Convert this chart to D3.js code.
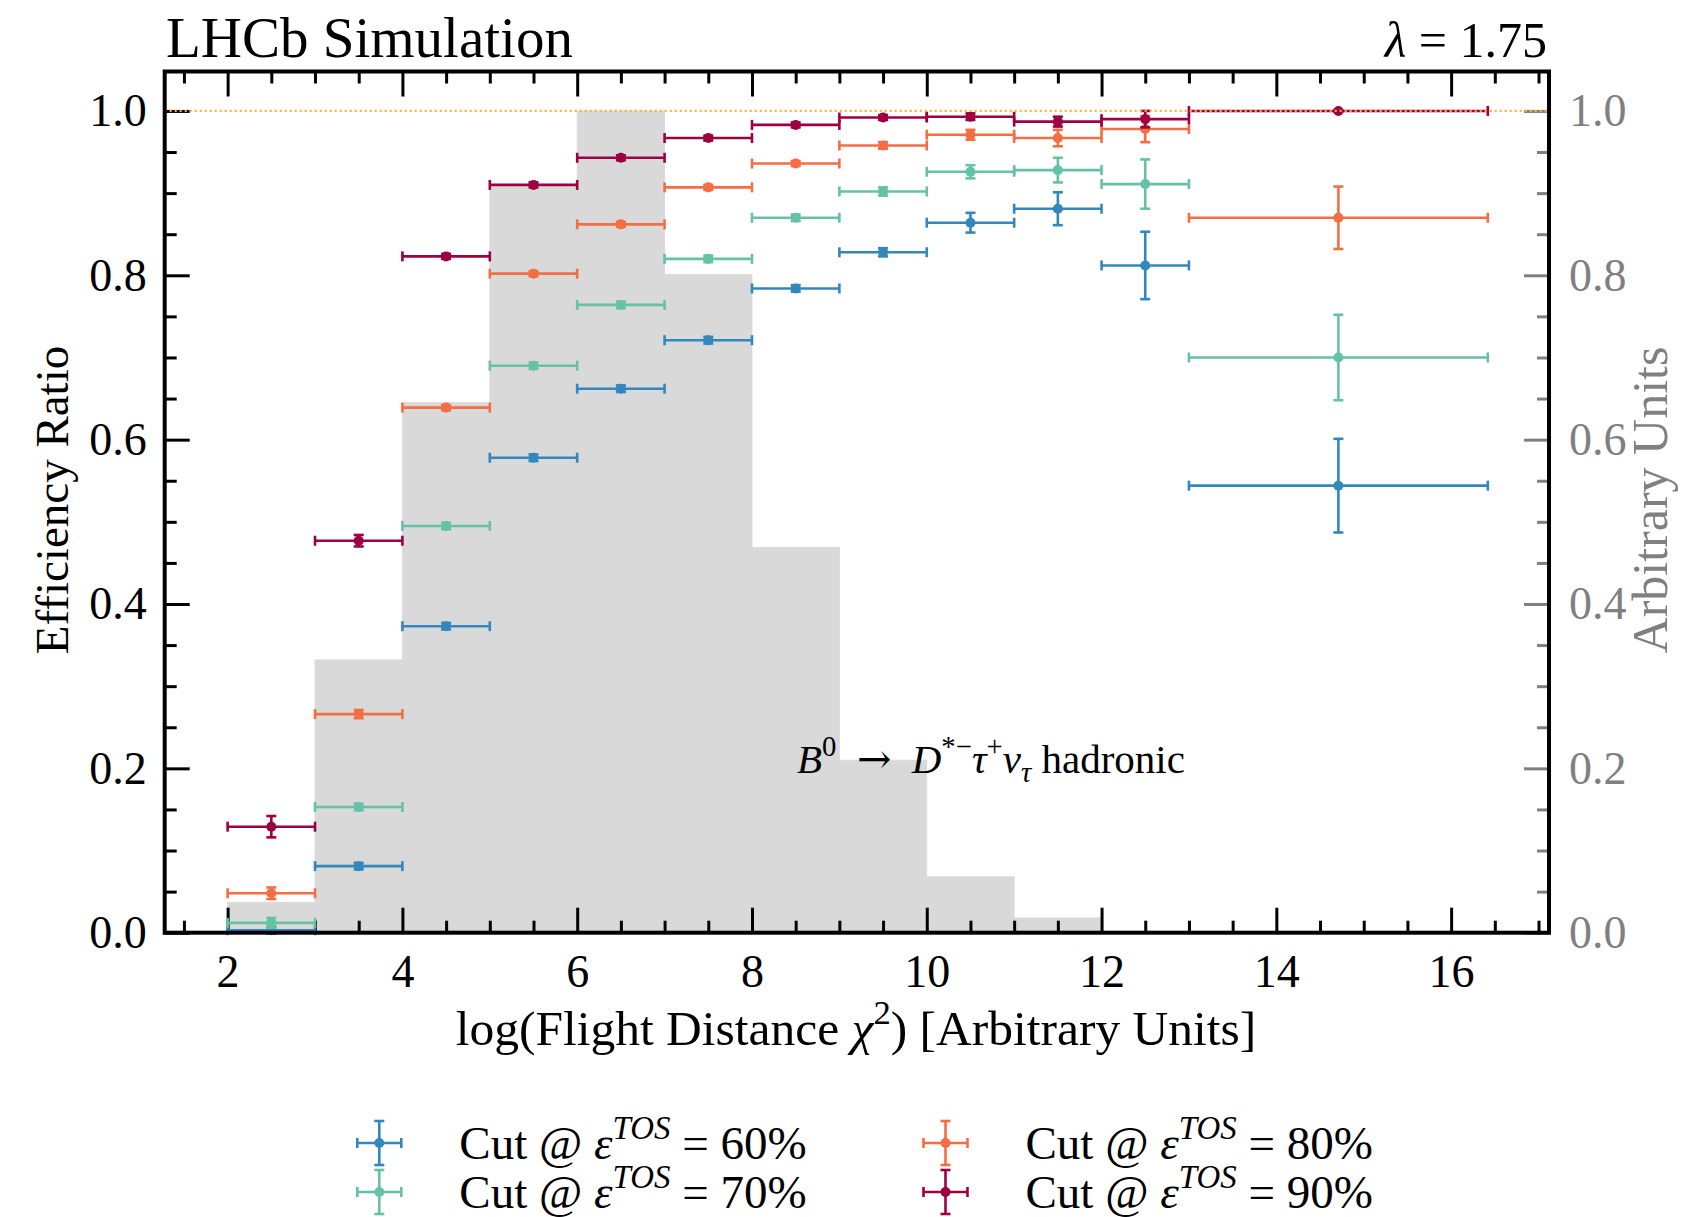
<!DOCTYPE html>
<html>
<head>
<meta charset="utf-8">
<script src="https://cdn.jsdelivr.net/npm/d3@7"></script>
<style>
  body { margin: 0; background: #fff; }
  text { font-family: "Liberation Serif", "DejaVu Serif", serif; }
</style>
</head>
<body>
<div id="chart"></div>
<script>
// bins of log(FD chi2)
const binLow    = [2, 3, 4, 5, 6, 7, 8, 9, 10, 11, 12, 13];
const binHigh   = [3, 4, 5, 6, 7, 8, 9, 10, 11, 12, 13, 16.42];
const binCenter = [2.5, 3.5, 4.5, 5.5, 6.5, 7.5, 8.5, 9.5, 10.5, 11.5, 12.5, 14.71];

// grey signal histogram (right axis, arbitrary units)
const histLow    = [2, 3, 4, 5, 6, 7, 8, 9, 10, 11, 12];
const histHigh   = [3, 4, 5, 6, 7, 8, 9, 10, 11, 12, 13];
const histValues = [0.037, 0.332, 0.645, 0.910, 1.0, 0.801, 0.469, 0.210, 0.068, 0.018, 0.0];

// efficiency ratios per TOS cut
const eff60 = [0.003, 0.081, 0.373, 0.578, 0.662, 0.721, 0.784, 0.828, 0.864, 0.881, 0.812, 0.544];
const err60 = [0.004, 0.004, 0.004, 0.004, 0.004, 0.004, 0.004, 0.005, 0.012, 0.020, 0.041, 0.057];
const eff70 = [0.012, 0.153, 0.495, 0.690, 0.764, 0.820, 0.870, 0.902, 0.926, 0.928, 0.911, 0.700];
const err70 = [0.006, 0.004, 0.004, 0.004, 0.004, 0.004, 0.004, 0.005, 0.008, 0.015, 0.030, 0.052];
const eff80 = [0.048, 0.266, 0.639, 0.802, 0.862, 0.907, 0.936, 0.958, 0.971, 0.967, 0.978, 0.870];
const err80 = [0.007, 0.005, 0.003, 0.003, 0.003, 0.003, 0.003, 0.004, 0.006, 0.010, 0.016, 0.038];
const eff90 = [0.129, 0.477, 0.823, 0.910, 0.943, 0.967, 0.983, 0.992, 0.993, 0.987, 0.990, 1.0];
const err90 = [0.013, 0.007, 0.003, 0.003, 0.003, 0.003, 0.003, 0.003, 0.004, 0.006, 0.010, 0.001];

const seriesLabels = ["60%", "70%", "80%", "90%"];
const seriesColors = ["#3288bd", "#66c2a5", "#f46d43", "#9e0142"];

const xTicks = [2, 4, 6, 8, 10, 12, 14, 16];
const yTicks = [0, 0.2, 0.4, 0.6, 0.8, 1.0];

const series = [
  {eff: eff60, err: err60}, {eff: eff70, err: err70},
  {eff: eff80, err: err80}, {eff: eff90, err: err90}
];

const W = 1681, H = 1217;
const pLeft = 164.7, pRight = 1549, pTop = 71.5, pBottom = 932.7;

var x = d3.scaleLinear().domain([1.28, 17.12]).range([pLeft, pRight]);
var y = d3.scaleLinear().domain([0, 1.048]).range([pBottom, pTop]);

var svg = d3.select("#chart").append("svg")
    .attr("width", W).attr("height", H);

// histogram
svg.append("g").selectAll("rect")
    .data(histValues)
    .enter().append("rect")
    .attr("x", (d, i) => x(histLow[i]))
    .attr("width", (d, i) => x(histHigh[i]) - x(histLow[i]))
    .attr("y", d => y(d))
    .attr("height", d => y(0) - y(d))
    .attr("fill", "#d9d9d9")
    .attr("stroke", "#d9d9d9").attr("stroke-width", 0.8);

// text with super/subscripts
function rich(t, parts, size) {
  let cur = 0;
  parts.forEach(p => {
    let shift = p.sup ? -0.42 * size : (p.sub ? 0.22 * size : 0);
    let ts = t.append("tspan").text(p.t)
        .attr("font-size", (p.sup || p.sub) ? size * 0.7 : size)
        .attr("dy", shift - cur);
    cur = shift;
    if (p.it) ts.attr("font-style", "italic");
    if (p.font) ts.style("font-family", p.font);
  });
}

var decay = svg.append("text").attr("x", 797).attr("y", 773).attr("fill", "#000");
rich(decay, [
  {t: "B", it: true}, {t: "0", sup: true}, {t: "  "},
  {t: "\u2192", font: "'DejaVu Serif', serif"}, {t: "  "},
  {t: "D", it: true}, {t: "*\u2212", sup: true},
  {t: "\u03C4", it: true}, {t: "+", sup: true},
  {t: "\u03BD", it: true}, {t: "\u03C4", sub: true, it: true},
  {t: " hadronic"}
], 41);
decay.attr("xml:space", "preserve").style("white-space", "pre");

// ticks, inward on all four sides
var xMinor = d3.range(1.5, 17.01, 0.5).filter(v => v % 2 !== 0);
var yMinor = d3.range(0, 1.0481, 0.05).filter(v => Math.abs(v * 5 - Math.round(v * 5)) > 1e-6);

var gx = svg.append("g").attr("transform", `translate(0,${pBottom})`);
gx.call(d3.axisBottom(x).tickValues(xTicks).tickSize(-25).tickPadding(22).tickFormat(d3.format("d")));
gx.append("g").call(d3.axisBottom(x).tickValues(xMinor).tickSize(-12).tickFormat(""));

var gxt = svg.append("g").attr("transform", `translate(0,${pTop})`);
gxt.call(d3.axisTop(x).tickValues(xTicks).tickSize(-25).tickFormat(""));
gxt.append("g").call(d3.axisTop(x).tickValues(xMinor).tickSize(-12).tickFormat(""));

var gy = svg.append("g").attr("transform", `translate(${pLeft},0)`);
gy.call(d3.axisLeft(y).tickValues(yTicks).tickSize(-25).tickPadding(18).tickFormat(d3.format(".1f")));
gy.append("g").call(d3.axisLeft(y).tickValues(yMinor).tickSize(-12).tickFormat(""));

var gyr = svg.append("g").attr("transform", `translate(${pRight},0)`);
gyr.call(d3.axisRight(y).tickValues(yTicks).tickSize(-25).tickPadding(20).tickFormat(d3.format(".1f")));
gyr.append("g").call(d3.axisRight(y).tickValues(yMinor).tickSize(-12).tickFormat(""));

svg.selectAll(".domain").remove();
svg.selectAll(".tick line").attr("stroke", "#000").attr("stroke-width", 3);
svg.selectAll(".tick text").attr("font-size", 46).attr("fill", "#000")
    .style("font-family", "'Liberation Serif', serif");
gyr.selectAll(".tick line").attr("stroke", "#808080");
gyr.selectAll(".tick text").attr("fill", "#808080");

// error bars
var cap = 5;
series.forEach((s, si) => {
  var col = seriesColors[si];
  var g = svg.append("g").attr("stroke", col).attr("stroke-width", 2.6).attr("fill", col);
  var pts = g.selectAll("g.pt").data(s.eff).enter().append("g").attr("class", "pt");
  pts.append("line")
      .attr("x1", (d, i) => x(binLow[i])).attr("x2", (d, i) => x(binHigh[i]))
      .attr("y1", d => y(d)).attr("y2", d => y(d));
  pts.append("line")
      .attr("x1", (d, i) => x(binLow[i])).attr("x2", (d, i) => x(binLow[i]))
      .attr("y1", d => y(d) - cap).attr("y2", d => y(d) + cap);
  pts.append("line")
      .attr("x1", (d, i) => x(binHigh[i])).attr("x2", (d, i) => x(binHigh[i]))
      .attr("y1", d => y(d) - cap).attr("y2", d => y(d) + cap);
  pts.append("line")
      .attr("x1", (d, i) => x(binCenter[i])).attr("x2", (d, i) => x(binCenter[i]))
      .attr("y1", (d, i) => y(d - s.err[i])).attr("y2", (d, i) => y(d + s.err[i]));
  pts.append("line")
      .attr("x1", (d, i) => x(binCenter[i]) - cap).attr("x2", (d, i) => x(binCenter[i]) + cap)
      .attr("y1", (d, i) => y(d - s.err[i])).attr("y2", (d, i) => y(d - s.err[i]));
  pts.append("line")
      .attr("x1", (d, i) => x(binCenter[i]) - cap).attr("x2", (d, i) => x(binCenter[i]) + cap)
      .attr("y1", (d, i) => y(d + s.err[i])).attr("y2", (d, i) => y(d + s.err[i]));
  pts.append("circle")
      .attr("cx", (d, i) => x(binCenter[i])).attr("cy", d => y(d))
      .attr("r", 5).attr("stroke", "none");
});

// reference line at 1
svg.append("line")
    .attr("x1", pLeft).attr("x2", pRight).attr("y1", y(1)).attr("y2", y(1))
    .attr("stroke", "#fbb040").attr("stroke-width", 2.2).attr("stroke-dasharray", "2,3");

// frame
svg.append("rect")
    .attr("x", pLeft).attr("y", pTop).attr("width", pRight - pLeft).attr("height", pBottom - pTop)
    .attr("fill", "none").attr("stroke", "#000").attr("stroke-width", 4);

// titles
svg.append("text").attr("x", 166).attr("y", 57).attr("font-size", 57).text("LHCb Simulation");
var lam = svg.append("text").attr("x", pRight - 2).attr("y", 57).attr("text-anchor", "end").attr("font-size", 50);
lam.append("tspan").attr("font-style", "italic").text("\u03BB");
lam.append("tspan").text(" = 1.75");

var xl = svg.append("text").attr("x", 856).attr("y", 1045).attr("text-anchor", "middle");
rich(xl, [{t: "log(Flight Distance "}, {t: "\u03C7", it: true}, {t: "2", sup: true},
          {t: ") [Arbitrary Units]"}], 49.5);

svg.append("text")
    .attr("transform", "translate(68,500) rotate(-90)")
    .attr("text-anchor", "middle").attr("font-size", 47)
    .text("Efficiency Ratio");
svg.append("text")
    .attr("transform", "translate(1667,500) rotate(-90)")
    .attr("text-anchor", "middle").attr("font-size", 50).attr("fill", "#808080")
    .text("Arbitrary Units");

// legend
var legX = [379.3, 945.5], legY = [1143, 1192];
series.forEach((s, si) => {
  var cx = legX[Math.floor(si / 2)], cy = legY[si % 2], col = seriesColors[si];
  var g = svg.append("g").attr("stroke", col).attr("stroke-width", 2.6).attr("fill", col);
  g.append("line").attr("x1", cx - 22).attr("x2", cx + 22).attr("y1", cy).attr("y2", cy);
  g.append("line").attr("x1", cx).attr("x2", cx).attr("y1", cy - 22).attr("y2", cy + 22);
  [-22, 22].forEach(o => {
    g.append("line").attr("x1", cx + o).attr("x2", cx + o).attr("y1", cy - cap).attr("y2", cy + cap);
    g.append("line").attr("x1", cx - cap).attr("x2", cx + cap).attr("y1", cy + o).attr("y2", cy + o);
  });
  g.append("circle").attr("cx", cx).attr("cy", cy).attr("r", 5).attr("stroke", "none");
  var t = svg.append("text").attr("x", cx + 80).attr("y", cy + 16);
  rich(t, [{t: "Cut @ "}, {t: "\u03B5", it: true}, {t: "TOS", sup: true, it: true},
           {t: " = " + seriesLabels[si]}], 47);
});
</script>
</body>
</html>
